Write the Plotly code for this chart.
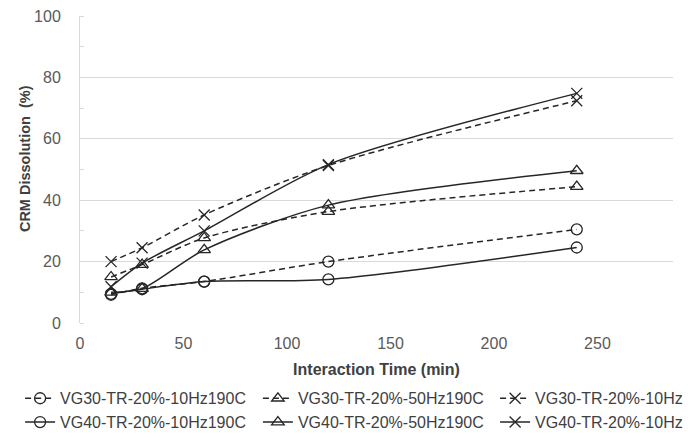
import plotly.graph_objects as go

time_min = [15, 30, 60, 120, 240]

vg30_10hz190 = [9.2, 11.3, 13.5, 20.0, 30.5]
vg30_50hz190 = [15.0, 19.0, 27.7, 36.3, 44.4]
vg30_10hz_x = [20.0, 24.5, 35.2, 51.3, 72.4]
vg40_10hz190 = [9.5, 11.0, 13.5, 14.2, 24.6]
vg40_50hz190 = [10.0, 11.2, 23.8, 38.4, 49.6]
vg40_10hz_x = [11.8, 19.5, 30.0, 51.6, 74.8]

names = [
    "VG30-TR-20%-10Hz190C",
    "VG40-TR-20%-10Hz190C",
    "VG30-TR-20%-50Hz190C",
    "VG40-TR-20%-50Hz190C",
    "VG30-TR-20%-10Hz",
    "VG40-TR-20%-10Hz",
]

x_ticks = [0, 50, 100, 150, 200, 250]
y_ticks = [0, 20, 40, 60, 80, 100]

series = [
    (vg30_10hz190, names[0], "circle-open", "dash", "legend"),
    (vg40_10hz190, names[1], "circle-open", "solid", "legend"),
    (vg30_50hz190, names[2], "triangle-up-open", "dash", "legend2"),
    (vg40_50hz190, names[3], "triangle-up-open", "solid", "legend2"),
    (vg30_10hz_x, names[4], "x-thin-open", "dash", "legend3"),
    (vg40_10hz_x, names[5], "x-thin-open", "solid", "legend3"),
]

fig = go.Figure()
for vals, name, sym, dash, leg in series:
    fig.add_trace(go.Scatter(
        x=time_min, y=vals, name=name, mode="lines+markers",
        line=dict(color="#262626", width=1.5, dash="6px,4px" if dash == "dash" else "solid",
                  shape="spline", smoothing=0.8),
        marker=dict(symbol=sym, size=11, color="#262626", line=dict(width=1.3, color="#262626")),
        legend=leg,
    ))

legfont = dict(family="Liberation Sans, Arial, sans-serif", size=16, color="#404040")
common_leg = dict(orientation="v", yanchor="top", xanchor="left", font=legfont,
                  bgcolor="rgba(0,0,0,0)", tracegroupgap=0, itemwidth=30)

fig.update_layout(
    width=688, height=437,
    margin=dict(l=80, r=15, t=16, b=114, autoexpand=False),
    paper_bgcolor="white", plot_bgcolor="white",
    font=dict(family="Liberation Sans, Arial, sans-serif", color="#595959"),
    legend=dict(x=-0.101, y=-0.19, **common_leg),
    legend2=dict(x=0.300, y=-0.19, **common_leg),
    legend3=dict(x=0.700, y=-0.19, **common_leg),
    xaxis=dict(
        range=[0, 286.5], tickvals=x_ticks, showgrid=False, zeroline=False,
        showline=False, ticks="", ticklabelstandoff=9, tickfont=dict(size=16, color="#595959"),
        title=dict(text="<b>Interaction Time (min)</b>", font=dict(size=16, color="#404040"), standoff=12),
    ),
    yaxis=dict(
        range=[0, 100], tickvals=y_ticks, showgrid=True, gridcolor="#d9d9d9", gridwidth=1,
        zeroline=False, showline=True, linecolor="#d9d9d9", linewidth=1, ticks="",
        ticklabelstandoff=15, tickfont=dict(size=16, color="#595959"),
        minor=dict(dtick=10, ticks="inside", ticklen=4, tickcolor="#d9d9d9", showgrid=False),
    ),
    annotations=[dict(
        text="<b>CRM Dissolution  (%)</b>", textangle=-90, showarrow=False,
        xref="paper", yref="paper", x=-0.0927, y=0.534, xanchor="center", yanchor="middle",
        font=dict(family="Liberation Sans, Arial, sans-serif", size=14.5, color="#404040"),
    )],
    showlegend=True,
)

fig.write_html("out.html")
